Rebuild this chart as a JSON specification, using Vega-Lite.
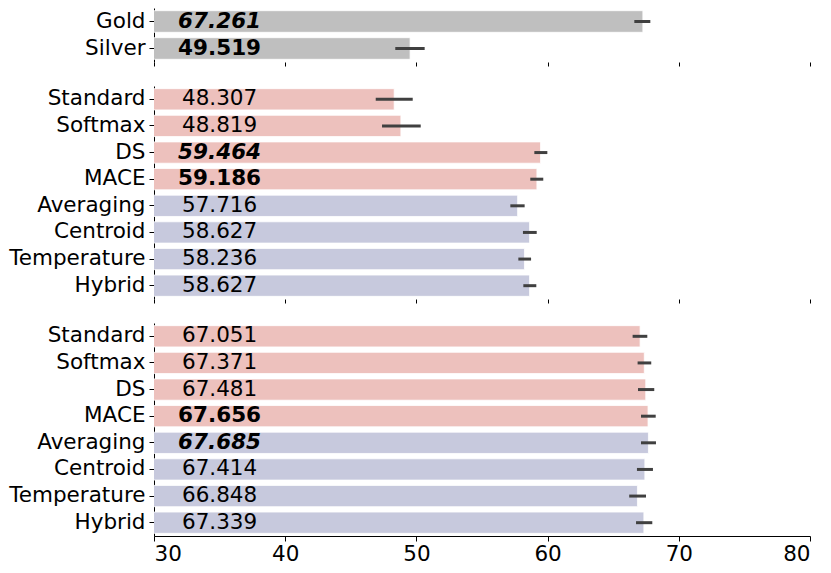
{
  "$schema": "https://vega.github.io/schema/vega-lite/v6.json",
  "description": "Scores by method with error bars, three stacked panels",
  "padding": {"left": 8, "top": 8, "right": 5, "bottom": 5},
  "background": "white",
  "config": {
    "font": "DejaVu Sans",
    "view": {"stroke": null},
    "axis": {"grid": false, "labelColor": "#000000", "tickColor": "#000000", "domainColor": "#000000", "labelFontSize": 21.5, "title": null}
  },
  "data": {
    "values": [
      {"panel": "top", "method": "Gold", "value": 67.261, "lo": 66.61, "hi": 67.83, "kind": "reference", "label": "67.261", "style": "bolditalic"},
      {"panel": "top", "method": "Silver", "value": 49.519, "lo": 48.39, "hi": 50.63, "kind": "reference", "label": "49.519", "style": "bold"},
      {"panel": "mid", "method": "Standard", "value": 48.307, "lo": 46.9, "hi": 49.72, "kind": "single", "label": "48.307", "style": "normal"},
      {"panel": "mid", "method": "Softmax", "value": 48.819, "lo": 47.38, "hi": 50.33, "kind": "single", "label": "48.819", "style": "normal"},
      {"panel": "mid", "method": "DS", "value": 59.464, "lo": 58.99, "hi": 59.98, "kind": "single", "label": "59.464", "style": "bolditalic"},
      {"panel": "mid", "method": "MACE", "value": 59.186, "lo": 58.68, "hi": 59.67, "kind": "single", "label": "59.186", "style": "bold"},
      {"panel": "mid", "method": "Averaging", "value": 57.716, "lo": 57.16, "hi": 58.25, "kind": "ensemble", "label": "57.716", "style": "normal"},
      {"panel": "mid", "method": "Centroid", "value": 58.627, "lo": 58.12, "hi": 59.17, "kind": "ensemble", "label": "58.627", "style": "normal"},
      {"panel": "mid", "method": "Temperature", "value": 58.236, "lo": 57.77, "hi": 58.74, "kind": "ensemble", "label": "58.236", "style": "normal"},
      {"panel": "mid", "method": "Hybrid", "value": 58.627, "lo": 58.15, "hi": 59.14, "kind": "ensemble", "label": "58.627", "style": "normal"},
      {"panel": "bot", "method": "Standard", "value": 67.051, "lo": 66.48, "hi": 67.6, "kind": "single", "label": "67.051", "style": "normal"},
      {"panel": "bot", "method": "Softmax", "value": 67.371, "lo": 66.86, "hi": 67.9, "kind": "single", "label": "67.371", "style": "normal"},
      {"panel": "bot", "method": "DS", "value": 67.481, "lo": 66.89, "hi": 68.13, "kind": "single", "label": "67.481", "style": "normal"},
      {"panel": "bot", "method": "MACE", "value": 67.656, "lo": 67.12, "hi": 68.24, "kind": "single", "label": "67.656", "style": "bold"},
      {"panel": "bot", "method": "Averaging", "value": 67.685, "lo": 67.12, "hi": 68.26, "kind": "ensemble", "label": "67.685", "style": "bolditalic"},
      {"panel": "bot", "method": "Centroid", "value": 67.414, "lo": 66.81, "hi": 68.03, "kind": "ensemble", "label": "67.414", "style": "normal"},
      {"panel": "bot", "method": "Temperature", "value": 66.848, "lo": 66.22, "hi": 67.5, "kind": "ensemble", "label": "66.848", "style": "normal"},
      {"panel": "bot", "method": "Hybrid", "value": 67.339, "lo": 66.74, "hi": 67.98, "kind": "ensemble", "label": "67.339", "style": "normal"}
    ]
  },
  "spacing": 19,
  "vconcat": [
    {
      "width": 656,
      "height": 54,
      "transform": [{"filter": "datum.panel === 'top'"}],
      "encoding": {
        "y": {"field": "method", "type": "nominal", "sort": null, "scale": {"paddingInner": 0.2, "paddingOuter": 0.1}, "axis": {"tickSize": 5, "labelPadding": 4}}
      },
      "layer": [
        {
          "mark": {"type": "bar", "stroke": "white", "strokeWidth": 0.8, "clip": true},
          "encoding": {
            "x": {"field": "value", "type": "quantitative", "scale": {"domain": [30, 80], "nice": false, "zero": false}, "axis": {"labels": false, "domain": false, "tickSize": 4, "values": [30, 40, 50, 60, 70, 80]}},
            "color": {"field": "kind", "type": "nominal", "scale": {"domain": ["reference", "single", "ensemble"], "range": ["#bfbfbf", "#edc1bd", "#c7c9dd"]}, "legend": null}
          }
        },
        {
          "mark": {"type": "rule", "strokeWidth": 3, "color": "#404040"},
          "encoding": {"x": {"field": "lo", "type": "quantitative"}, "x2": {"field": "hi"}}
        },
        {
          "transform": [{"filter": "datum.style === 'bold'"}],
          "mark": {"type": "text", "fontSize": 21.5, "fontWeight": "bold", "align": "center", "color": "#000000"},
          "encoding": {"x": {"datum": 35, "type": "quantitative"}, "text": {"field": "label"}}
        },
        {
          "transform": [{"filter": "datum.style === 'bolditalic'"}],
          "mark": {"type": "text", "fontSize": 21.5, "fontWeight": "bold", "fontStyle": "italic", "align": "center", "color": "#000000"},
          "encoding": {"x": {"datum": 35, "type": "quantitative"}, "text": {"field": "label"}}
        }
      ]
    },
    {
      "width": 656,
      "height": 213,
      "transform": [{"filter": "datum.panel === 'mid'"}],
      "encoding": {
        "y": {"field": "method", "type": "nominal", "sort": null, "scale": {"paddingInner": 0.2, "paddingOuter": 0.1}, "axis": {"tickSize": 5, "labelPadding": 4}}
      },
      "layer": [
        {
          "mark": {"type": "bar", "stroke": "white", "strokeWidth": 0.8, "clip": true},
          "encoding": {
            "x": {"field": "value", "type": "quantitative", "scale": {"domain": [30, 80], "nice": false, "zero": false}, "axis": {"labels": false, "domain": false, "tickSize": 4, "values": [30, 40, 50, 60, 70, 80]}},
            "color": {"field": "kind", "type": "nominal", "scale": {"domain": ["reference", "single", "ensemble"], "range": ["#bfbfbf", "#edc1bd", "#c7c9dd"]}, "legend": null}
          }
        },
        {
          "mark": {"type": "rule", "strokeWidth": 3, "color": "#404040"},
          "encoding": {"x": {"field": "lo", "type": "quantitative"}, "x2": {"field": "hi"}}
        },
        {
          "transform": [{"filter": "datum.style === 'normal'"}],
          "mark": {"type": "text", "fontSize": 21.5, "align": "center", "color": "#000000"},
          "encoding": {"x": {"datum": 35, "type": "quantitative"}, "text": {"field": "label"}}
        },
        {
          "transform": [{"filter": "datum.style === 'bold'"}],
          "mark": {"type": "text", "fontSize": 21.5, "fontWeight": "bold", "align": "center", "color": "#000000"},
          "encoding": {"x": {"datum": 35, "type": "quantitative"}, "text": {"field": "label"}}
        },
        {
          "transform": [{"filter": "datum.style === 'bolditalic'"}],
          "mark": {"type": "text", "fontSize": 21.5, "fontWeight": "bold", "fontStyle": "italic", "align": "center", "color": "#000000"},
          "encoding": {"x": {"datum": 35, "type": "quantitative"}, "text": {"field": "label"}}
        }
      ]
    },
    {
      "width": 656,
      "height": 213,
      "transform": [{"filter": "datum.panel === 'bot'"}],
      "encoding": {
        "y": {"field": "method", "type": "nominal", "sort": null, "scale": {"paddingInner": 0.2, "paddingOuter": 0.1}, "axis": {"tickSize": 5, "labelPadding": 4}}
      },
      "layer": [
        {
          "mark": {"type": "bar", "stroke": "white", "strokeWidth": 0.8, "clip": true},
          "encoding": {
            "x": {"field": "value", "type": "quantitative", "scale": {"domain": [30, 80], "nice": false, "zero": false}, "axis": {"tickSize": 5, "labelPadding": 2, "values": [30, 40, 50, 60, 70, 80]}},
            "color": {"field": "kind", "type": "nominal", "scale": {"domain": ["reference", "single", "ensemble"], "range": ["#bfbfbf", "#edc1bd", "#c7c9dd"]}, "legend": null}
          }
        },
        {
          "mark": {"type": "rule", "strokeWidth": 3, "color": "#404040"},
          "encoding": {"x": {"field": "lo", "type": "quantitative"}, "x2": {"field": "hi"}}
        },
        {
          "transform": [{"filter": "datum.style === 'normal'"}],
          "mark": {"type": "text", "fontSize": 21.5, "align": "center", "color": "#000000"},
          "encoding": {"x": {"datum": 35, "type": "quantitative"}, "text": {"field": "label"}}
        },
        {
          "transform": [{"filter": "datum.style === 'bold'"}],
          "mark": {"type": "text", "fontSize": 21.5, "fontWeight": "bold", "align": "center", "color": "#000000"},
          "encoding": {"x": {"datum": 35, "type": "quantitative"}, "text": {"field": "label"}}
        },
        {
          "transform": [{"filter": "datum.style === 'bolditalic'"}],
          "mark": {"type": "text", "fontSize": 21.5, "fontWeight": "bold", "fontStyle": "italic", "align": "center", "color": "#000000"},
          "encoding": {"x": {"datum": 35, "type": "quantitative"}, "text": {"field": "label"}}
        }
      ]
    }
  ]
}
